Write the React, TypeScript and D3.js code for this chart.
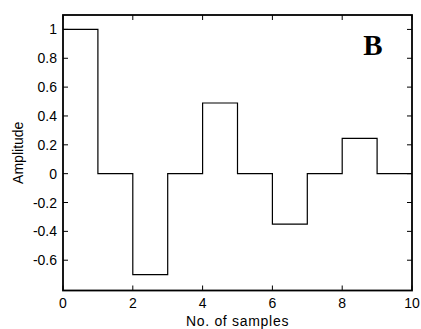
import React from "react";
import * as d3 from "d3";

const sampleEdges = [0, 1, 2, 3, 4, 5, 6, 7, 8, 9, 10];
const amplitudes = [1, 0, -0.7, 0, 0.49, 0, -0.35, 0, 0.245, 0];
const xTicks = [0, 2, 4, 6, 8, 10];
const yTicks = [1, 0.8, 0.6, 0.4, 0.2, 0, -0.2, -0.4, -0.6];
const xLabel = "No. of samples";
const yLabel = "Amplitude";
const panelLabel = "B";

export default function App() {
  const W = 421, H = 329;
  const left = 63, right = 412, top = 15, bottom = 290.5;
  const x = d3.scaleLinear().domain([0, 10]).range([left, right]);
  const y = d3.scaleLinear().domain([-0.81, 1.1]).range([bottom, top]);

  const pts: [number, number][] = [];
  amplitudes.forEach((a, i) => {
    pts.push([sampleEdges[i], a]);
    pts.push([sampleEdges[i + 1], a]);
  });
  const line = d3.line<[number, number]>().x(d => x(d[0])).y(d => y(d[1]));

  const font = "'Liberation Sans', Arial, sans-serif";
  const tl = 5;
  return (
    <svg width={W} height={H} style={{ position: "absolute", left: 0, top: 0, background: "#fff" }}>
      <rect x={0} y={0} width={W} height={H} fill="#fff" />
      <path d={line(pts) || ""} fill="none" stroke="#000" strokeWidth={1.2} />
      {xTicks.map(t => (
        <g key={"x" + t}>
          <line x1={x(t)} x2={x(t)} y1={bottom} y2={bottom - tl} stroke="#000" />
          <line x1={x(t)} x2={x(t)} y1={top} y2={top + tl} stroke="#000" />
          <text x={x(t)} y={308} textAnchor="middle" fontFamily={font} fontSize={14}>{t}</text>
        </g>
      ))}
      {yTicks.map(t => (
        <g key={"y" + t}>
          <line x1={left} x2={left + tl} y1={y(t)} y2={y(t)} stroke="#000" />
          <line x1={right} x2={right - tl} y1={y(t)} y2={y(t)} stroke="#000" />
          <text x={57} y={y(t) + 5} textAnchor="end" fontFamily={font} fontSize={14}>{String(t)}</text>
        </g>
      ))}
      <rect x={left} y={top} width={right - left} height={bottom - top} fill="none" stroke="#000" strokeWidth={1.8} />
      <text x={(left + right) / 2} y={326} textAnchor="middle" fontFamily={font} fontSize={14} letterSpacing={0.7}>{xLabel}</text>
      <text transform={`translate(23,${(top + bottom) / 2}) rotate(-90)`} textAnchor="middle" fontFamily={font} fontSize={14}>{yLabel}</text>
      <text x={373} y={55} textAnchor="middle" fontFamily="'Liberation Serif', 'Times New Roman', serif" fontWeight="bold" fontSize={29}>{panelLabel}</text>
    </svg>
  );
}
